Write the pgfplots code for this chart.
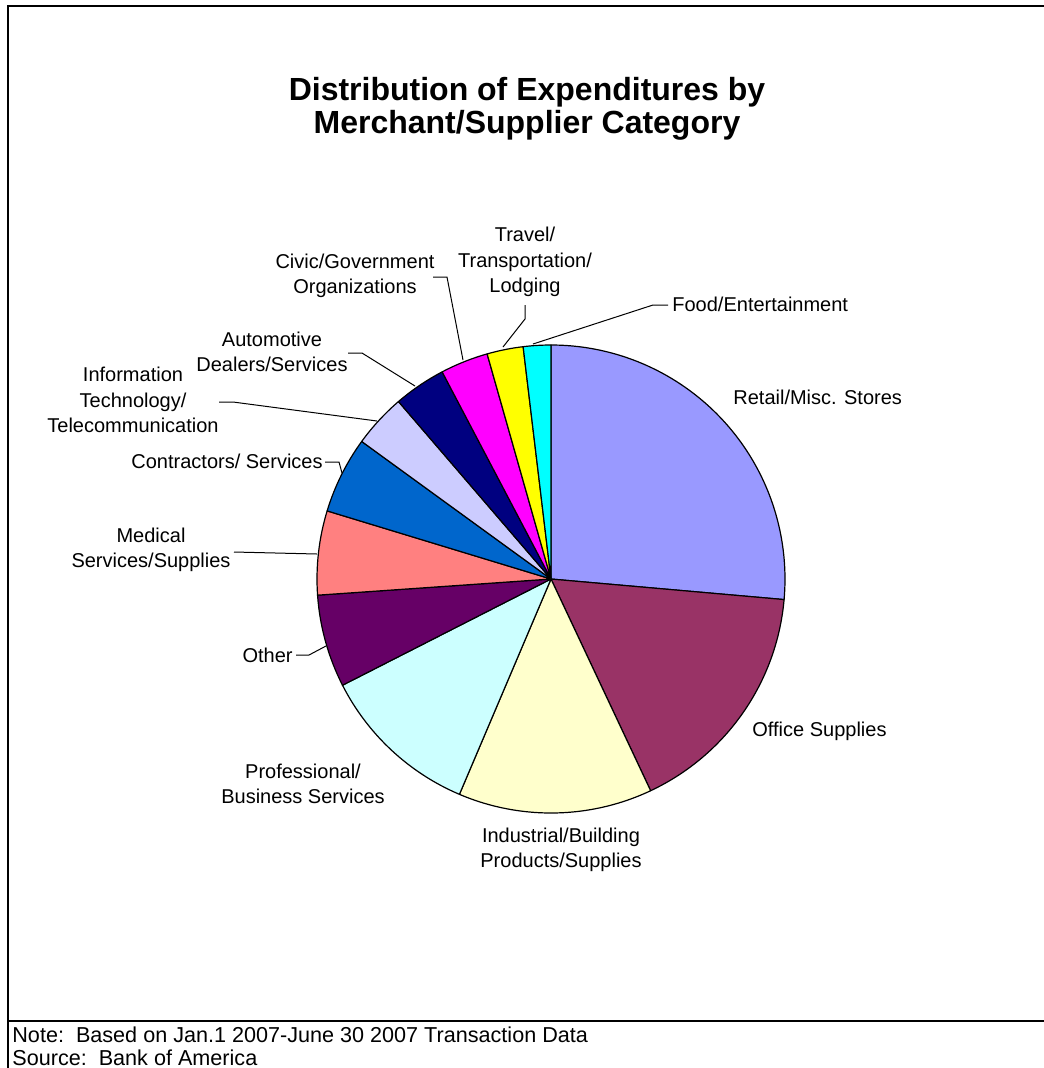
\documentclass[border=0pt]{standalone}
\usepackage{fontspec}
\setmainfont{Liberation Sans}
\usepackage{pgfplots}
\usepackage{pgfplotstable}
\pgfplotsset{compat=1.18}

% slice colours (Excel 2003 pie palette)
\definecolor{cRetail}{HTML}{9999FF}
\definecolor{cOffice}{HTML}{993366}
\definecolor{cIndustrial}{HTML}{FFFFCC}
\definecolor{cProf}{HTML}{CCFFFF}
\definecolor{cOther}{HTML}{660066}
\definecolor{cMedical}{HTML}{FF8080}
\definecolor{cContract}{HTML}{0066CC}
\definecolor{cIT}{HTML}{CCCCFF}
\definecolor{cAuto}{HTML}{000080}
\definecolor{cCivic}{HTML}{FF00FF}
\definecolor{cTravel}{HTML}{FFFF00}
\definecolor{cFood}{HTML}{00FFFF}

% share of expenditures in percent, clockwise from 12 o'clock
\pgfplotstableread{
value colour
26.4 cRetail
16.6 cOffice
13.4 cIndustrial
11.1 cProf
6.4  cOther
5.8  cMedical
5.3  cContract
3.7  cIT
3.6  cAuto
3.3  cCivic
2.5  cTravel
1.9  cFood
}\piedata
\pgfplotstablecreatecol[create col/expr accum={\pgfmathaccuma + \thisrow{value}}{0}]{end}\piedata
\pgfplotstablecreatecol[create col/expr={\thisrow{end}-\thisrow{value}}]{start}\piedata

\tikzset{
  lbl/.style={inner sep=0pt, align=center, font=\fontsize{10pt}{12.75pt}\selectfont},
  lead/.style={line width=0.5pt, black},
  foot/.style={anchor=base west, inner sep=0pt, font=\fontsize{10.8pt}{13pt}\selectfont},
}

\begin{document}
\begin{tikzpicture}
\begin{axis}[
  width=522pt, height=534pt, scale only axis,
  xmin=0, xmax=1044, ymin=0, ymax=1068, y dir=reverse,
  hide axis, clip=false,
]
% page frame
\draw[line width=1pt] (axis cs:8,1068) -- (axis cs:8,6) -- (axis cs:1044,6);
\draw[line width=1pt] (axis cs:8,1021) -- (axis cs:1044,1021);

% pie slices, centre (551,579), radius 234 px
\pgfplotsinvokeforeach{0,...,11}{
  \pgfplotstablegetelem{#1}{start}\of\piedata \let\sA\pgfplotsretval
  \pgfplotstablegetelem{#1}{end}\of\piedata \let\sB\pgfplotsretval
  \pgfplotstablegetelem{#1}{colour}\of\piedata \let\sC\pgfplotsretval
  \pgfmathsetmacro\aA{90-3.6*\sA}
  \pgfmathsetmacro\aB{90-3.6*\sB}
  \edef\drawslice{\noexpand\filldraw[fill=\sC, draw=black, line width=0.6pt, line join=round]
    (axis cs:551,579) -- ++(\aA:117pt) arc[start angle=\aA, end angle=\aB, radius=117pt] -- cycle;}
  \drawslice
}

% title
\node[anchor=base, font=\fontsize{16pt}{17pt}\selectfont\bfseries] at (axis cs:527,100) {Distribution of Expenditures by};
\node[anchor=base, font=\fontsize{16pt}{17pt}\selectfont\bfseries] at (axis cs:527,133) {Merchant/Supplier Category};

% slice labels
\node[lbl, anchor=west] at (axis cs:733,397) {Retail/Misc. Stores};
\node[lbl, anchor=west] at (axis cs:752,731) {Office Supplies};
\node[lbl] at (axis cs:561,850) {Industrial/Building\\Products/Supplies};
\node[lbl] at (axis cs:303,784) {Professional/\\Business Services};
\node[lbl, anchor=east] at (axis cs:293,655) {Other};
\node[lbl] at (axis cs:151,550) {Medical\\Services/Supplies};
\node[lbl, anchor=east] at (axis cs:323,461) {Contractors/ Services};
\node[lbl] at (axis cs:133,400) {Information\\Technology/\\Telecommunication};
\node[lbl] at (axis cs:272,352) {Automotive\\Dealers/Services};
\node[lbl] at (axis cs:355,276) {Civic/Government\\Organizations};
\node[lbl] at (axis cs:525,262) {Travel/\\Transportation/\\Lodging};
\node[lbl, anchor=west] at (axis cs:672,304) {Food/Entertainment};

% leader lines
\draw[lead] (axis cs:296,655) -- (axis cs:309,655) -- (axis cs:326,646);
\draw[lead] (axis cs:234,552) -- (axis cs:317,554);
\draw[lead] (axis cs:325,462) -- (axis cs:339,462) -- (axis cs:342,473);
\draw[lead] (axis cs:219,402) -- (axis cs:233,402) -- (axis cs:377,421);
\draw[lead] (axis cs:348,353) -- (axis cs:362,353) -- (axis cs:415,386);
\draw[lead] (axis cs:433,277) -- (axis cs:447,277) -- (axis cs:463,360);
\draw[lead] (axis cs:525,305) -- (axis cs:525,319) -- (axis cs:503,347);
\draw[lead] (axis cs:668,305) -- (axis cs:653,305) -- (axis cs:533,344);

% footnote
\node[foot] at (axis cs:12,1042) {Note:\ \ Based on Jan.1 2007-June 30 2007 Transaction Data};
\node[foot] at (axis cs:12,1065) {Source:\ \ Bank of America};

\coordinate (bbA) at (axis cs:0,1068);
\coordinate (bbB) at (axis cs:1044,0);
\end{axis}
\pgfresetboundingbox
\useasboundingbox (bbA) rectangle (bbB);
\end{tikzpicture}
\end{document}
